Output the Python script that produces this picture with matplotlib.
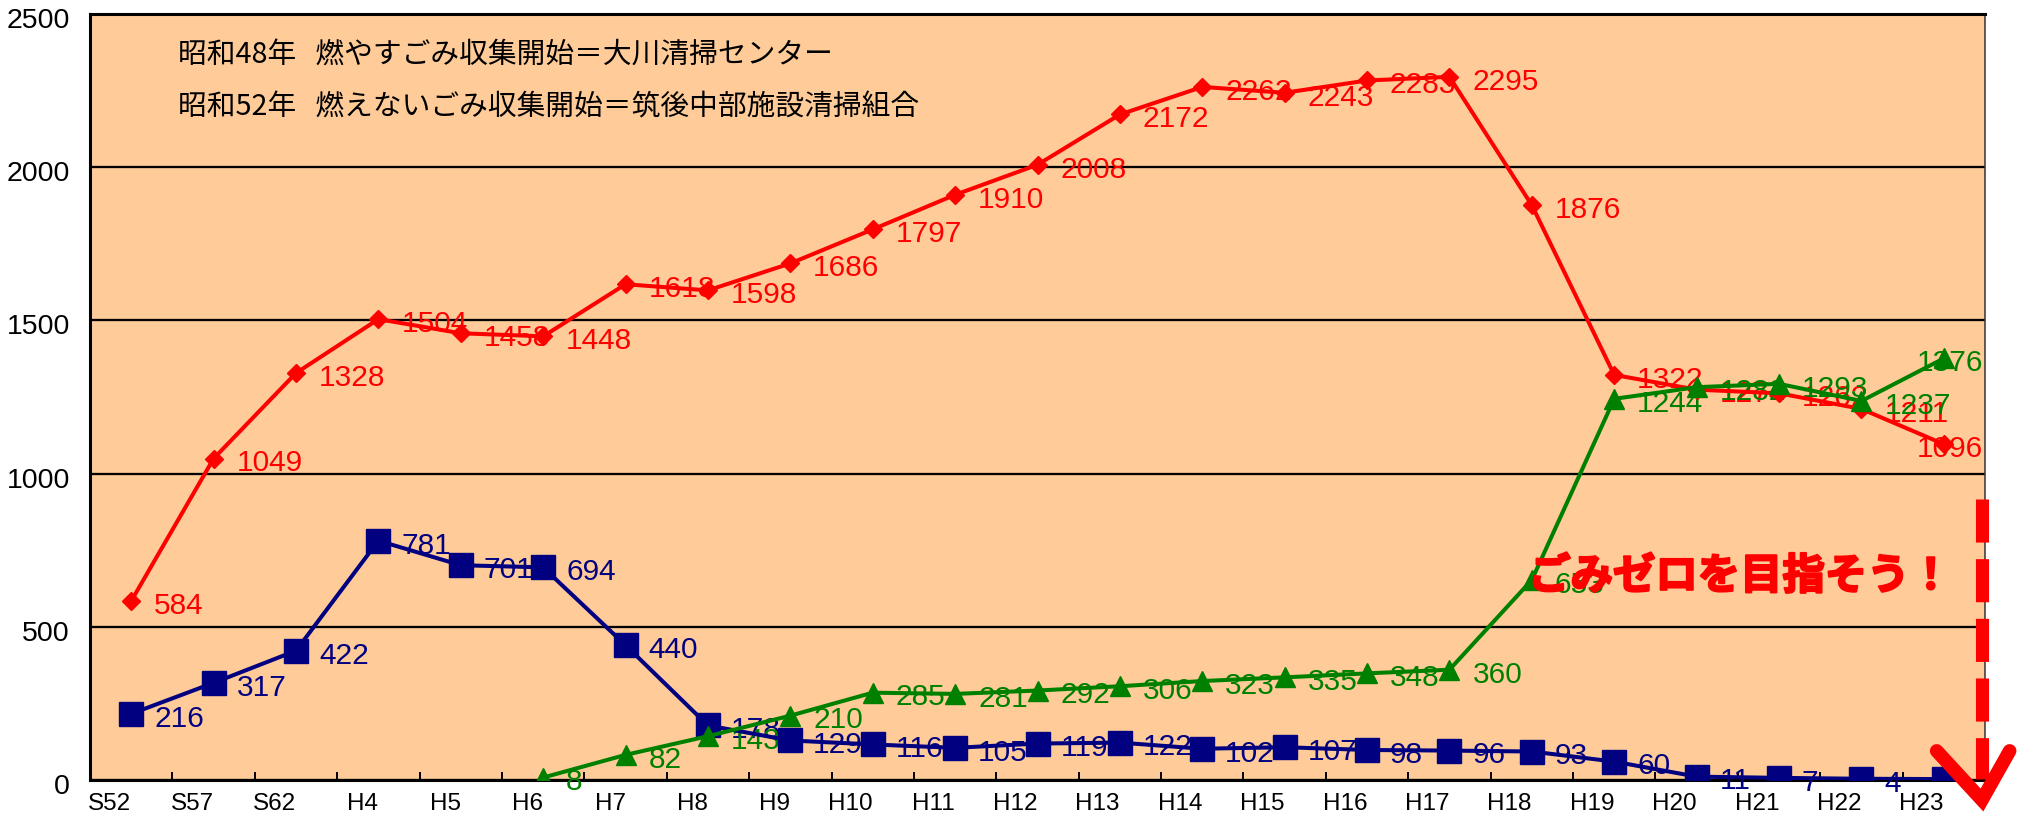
import numpy as np
import matplotlib
matplotlib.use("Agg")
import matplotlib.pyplot as plt
import matplotlib.patheffects as pe
from matplotlib.lines import Line2D
from matplotlib.transforms import ScaledTranslation, blended_transform_factory

# Fiscal years (Showa / Heisei)
years = ["S52", "S57", "S62", "H4", "H5", "H6", "H7", "H8", "H9", "H10", "H11",
         "H12", "H13", "H14", "H15", "H16", "H17", "H18", "H19", "H20", "H21",
         "H22", "H23"]

# Burnable waste
burnable = [584, 1049, 1328, 1504, 1458, 1448, 1618, 1598, 1686, 1797, 1910,
            2008, 2172, 2262, 2243, 2283, 2295, 1876, 1322, 1274, 1262, 1211,
            1096]

# Non-burnable waste
non_burnable = [216, 317, 422, 781, 701, 694, 440, 178, 129, 116, 105, 119,
                122, 102, 107, 98, 96, 93, 60, 11, 7, 4, 3]

# Resources (collected from H6 onward)
resources = [np.nan, np.nan, np.nan, np.nan, np.nan, 8, 82, 143, 210, 285, 281,
             292, 306, 323, 335, 348, 360, 653, 1244, 1282, 1293, 1237, 1376]

y_ticks = [0, 500, 1000, 1500, 2000, 2500]

notes = ["昭和48年   燃やすごみ収集開始＝大川清掃センター",
         "昭和52年   燃えないごみ収集開始＝筑後中部施設清掃組合"]
slogan = "ごみゼロを目指そう！"

PEACH = "#FFCC99"
RED = "#FF0000"
NAVY = "#000080"
GREEN = "#008000"

plt.rcParams["font.family"] = ["Liberation Sans", "Noto Sans CJK JP", "DejaVu Sans"]
CJK = ["Noto Sans CJK JP", "DejaVu Sans"]

fig = plt.figure(figsize=(20.17, 8.20), dpi=100)
ax = fig.add_axes([90 / 2017, 1 - 781 / 820, 1895 / 2017, 766 / 820])
ax.set_facecolor(PEACH)

x = np.arange(len(years))
ax.set_xlim(-0.5, len(years) - 0.5)
ax.set_ylim(y_ticks[0], y_ticks[-1])

# y axis: horizontal black gridlines, no tick marks
ax.set_yticks(y_ticks)
ax.yaxis.grid(True, color="black", lw=1.65)
ax.set_axisbelow(True)
ax.tick_params(axis="y", length=0, labelsize=20.5, pad=14.4)
shift = ScaledTranslation(0, -3 / 100, fig.dpi_scale_trans)
for lab in ax.get_yticklabels():
    lab.set_transform(lab.get_transform() + shift)

# x axis: inward tick marks between categories, labels at the category centres
ax.set_xticks(x[:-1] + 0.5)
ax.tick_params(axis="x", which="major", direction="in", length=5.8, width=1.4,
               labelbottom=False)
ax.set_xticks(x, minor=True)
ax.set_xticklabels(years, minor=True, ha="right")
ax.tick_params(axis="x", which="minor", length=0, pad=9, labelsize=17.5)

for side in ("left", "bottom", "top"):
    ax.spines[side].set_linewidth(2.2)
    ax.spines[side].set_color("black")
ax.spines["right"].set_linewidth(1.1)
ax.spines["right"].set_color("#333333")

series = [
    (burnable, RED, "D", 9.2, 3.0),
    (non_burnable, NAVY, "s", 17.3, 3.1),
    (resources, GREEN, "^", 14.2, 3.2),
]
for vals, col, mk, ms, z in series:
    ax.plot(x, vals, color=col, lw=2.9, marker=mk, ms=ms, mec=col, mfc=col,
            zorder=z)

# Data labels to the right of each point; the last column's labels are
# pulled back inside the plot's right edge
edge = blended_transform_factory(ax.transAxes, ax.transData) + \
    ScaledTranslation(-2 / 100, -11.5 / 100, fig.dpi_scale_trans)
label_zorder = 2.6
last = len(years) - 1
for vals, col, mk, ms, z in series:
    for xi, v in zip(x, vals):
        if np.isnan(v):
            continue
        if xi == last:
            if vals is non_burnable:
                continue  # hidden behind the arrow
            ax.text(1.0, v, f"{int(v)}", transform=edge, ha="right",
                    va="baseline", fontsize=21.5, color=col,
                    zorder=label_zorder)
        else:
            ax.annotate(f"{int(v)}", (xi, v), xytext=(16.5, -8.5),
                        textcoords="offset points", ha="left", va="baseline",
                        fontsize=21.5, color=col, zorder=label_zorder)
    label_zorder += 0.1

# Notes at the top of the plot
ax.text(0.0464, 0.948, notes[0], transform=ax.transAxes, family=CJK,
        fontsize=20.7, va="center", ha="left", color="black")
ax.text(0.0464, 0.879, notes[1], transform=ax.transAxes, family=CJK,
        fontsize=20.7, va="center", ha="left", color="black")

# Slogan
ax.text(0.759, 0.265, slogan, transform=ax.transAxes, family=CJK,
        fontsize=30.5, fontweight="bold", color=RED, va="center", ha="left",
        zorder=5,
        path_effects=[pe.withStroke(linewidth=1.6, foreground=RED)])

# Dashed red arrow pointing down to zero at the right edge
shaft = Line2D([0.9984, 0.9984], [0.367, 0.0013], transform=ax.transAxes,
               color=RED, lw=9.4, dashes=(3.3, 1.27), solid_capstyle="butt",
               dash_capstyle="butt", clip_on=False, zorder=6)
head = Line2D([0.9745, 0.9984, 1.0130], [0.038, -0.0261, 0.038],
              transform=ax.transAxes, color=RED, lw=9.8,
              solid_capstyle="round", solid_joinstyle="miter",
              clip_on=False, zorder=6)
ax.add_line(shaft)
ax.add_line(head)

fig.savefig("out.png", dpi=100, facecolor="white")
